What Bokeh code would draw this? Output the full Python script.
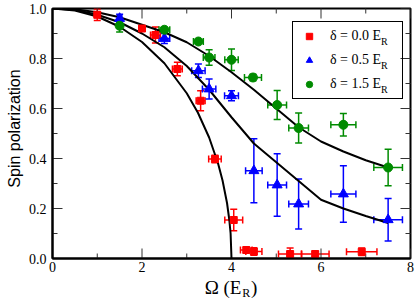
import math
from bokeh.plotting import figure
from bokeh.models import (ColumnDataSource, Whisker, TeeHead, Label,
                          Range1d, FixedTicker, PrintfTickFormatter)
from bokeh.embed import file_html
from bokeh.resources import INLINE

# ---------------- data ----------------
# delta = 0.0 E_R  (red squares)
red_x    = [1.0, 2.0, 2.3, 2.79, 3.31, 3.63, 4.05, 4.33, 4.5, 5.31, 5.87, 6.91]
red_y    = [0.975, 0.92, 0.894, 0.758, 0.631, 0.398, 0.154, 0.034, 0.028, 0.018, 0.018, 0.027]
red_xerr = [0.05, 0.05, 0.11, 0.11, 0.10, 0.14, 0.20, 0.13, 0.18, 0.26, 0.31, 0.34]
red_yerr = [0.023, 0.008, 0.032, 0.027, 0.04, 0.015, 0.043, 0.01, 0.015, 0.024, 0.01, 0.015]

# delta = 0.5 E_R  (blue triangles)
blue_x    = [1.5, 2.5, 3.26, 3.5, 4.0, 4.5, 5.02, 5.5, 6.5, 7.5]
blue_y    = [0.96, 0.88, 0.751, 0.678, 0.651, 0.351, 0.294, 0.218, 0.258, 0.155]
blue_xerr = [0.05, 0.12, 0.15, 0.15, 0.155, 0.185, 0.21, 0.22, 0.28, 0.32]
blue_yerr = [0.017, 0.02, 0.027, 0.04, 0.02, 0.128, 0.125, 0.10, 0.113, 0.085]

# delta = 1.5 E_R  (green circles)
green_x    = [1.5, 2.5, 3.26, 3.5, 4.0, 4.48, 5.02, 5.5, 6.5, 7.5]
green_y    = [0.931, 0.915, 0.868, 0.804, 0.795, 0.724, 0.614, 0.522, 0.535, 0.364]
green_xerr = [0.05, 0.12, 0.11, 0.13, 0.15, 0.19, 0.21, 0.22, 0.28, 0.32]
green_yerr = [0.025, 0.01, 0.005, 0.031, 0.043, 0.013, 0.058, 0.06, 0.045, 0.073]

# theory curves
curve0_x = [0, 0.5, 1.0, 1.5, 2.0, 2.5, 3.0, 3.25, 3.5, 3.7, 3.8, 3.9, 3.95, 3.98, 4.0]
curve0_y = [1.0, 0.992, 0.968, 0.927, 0.866, 0.781, 0.661, 0.583, 0.484, 0.38, 0.312, 0.222, 0.156, 0.1, 0.0]
curve1_x = [0, 0.5, 1.0, 1.5, 2.0, 2.5, 3.0, 3.5, 4.0, 4.5, 5.0, 5.5, 6.0, 6.5, 7.0, 7.5]
curve1_y = [1.0, 0.995, 0.975, 0.945, 0.90, 0.845, 0.77, 0.675, 0.565, 0.46, 0.385, 0.31, 0.235, 0.20, 0.17, 0.142]
curve2_x = [0, 0.5, 1.0, 1.5, 2.0, 2.5, 3.0, 3.5, 4.0, 4.5, 5.0, 5.5, 6.0, 6.5, 7.0, 7.5]
curve2_y = [1.0, 0.997, 0.985, 0.965, 0.935, 0.905, 0.865, 0.81, 0.745, 0.675, 0.60, 0.525, 0.468, 0.428, 0.393, 0.364]

x_ticks = [0, 2, 4, 6, 8]
x_minor = [1, 3, 5, 7]
y_ticks = [0.0, 0.2, 0.4, 0.6, 0.8, 1.0]
y_minor = [0.1, 0.3, 0.5, 0.7, 0.9]

legend_labels = ["δ = 0.0 E", "δ = 0.5 E", "δ = 1.5 E"]

RED, BLUE, GREEN = "#ff0000", "#0000ff", "#008b00"
SERIF = "Liberation Serif"
SANS = "Liberation Sans"
TICK = "#333333"

# ---------------- figure ----------------
p = figure(width=415, height=303, x_range=Range1d(0, 8), y_range=Range1d(0, 1),
           output_backend="svg", toolbar_location=None,
           min_border_left=50, min_border_right=5, min_border_top=8, min_border_bottom=45,
           background_fill_color="white", border_fill_color="white")
p.xgrid.grid_line_color = None
p.ygrid.grid_line_color = None
p.outline_line_color = "black"
p.outline_line_width = 2
p.outline_line_alpha = 1

for ax, ticks, minor, standoff in [(p.xaxis[0], x_ticks, x_minor, 3),
                                   (p.yaxis[0], y_ticks, y_minor, 6)]:
    ax.ticker = FixedTicker(ticks=ticks, minor_ticks=minor)
    ax.axis_line_color = "black"
    ax.axis_line_width = 2
    ax.major_tick_in = 0
    ax.major_tick_out = 0
    ax.minor_tick_in = 0
    ax.minor_tick_out = 0
    ax.major_label_text_font = SERIF
    ax.major_label_text_font_size = "14px"
    ax.major_label_text_color = "black"
    ax.major_label_standoff = standoff
p.yaxis[0].formatter = PrintfTickFormatter(format="%.1f")

# inward ticks on all four sides (markers centred on the frame edge, clipped by it)
x0, x1 = p.x_range.start, p.x_range.end
y0, y1 = p.y_range.start, p.y_range.end
for yy in (y0, y1):
    p.scatter(x_ticks, [yy] * len(x_ticks), marker="dash", angle=math.pi / 2, size=20,
              line_color=TICK, line_width=1)
    p.scatter(x_minor, [yy] * len(x_minor), marker="dash", angle=math.pi / 2, size=10,
              line_color=TICK, line_width=1)
for xx in (x0, x1):
    p.scatter([xx] * len(y_ticks), y_ticks, marker="dash", angle=0, size=20,
              line_color=TICK, line_width=1)
    p.scatter([xx] * len(y_minor), y_minor, marker="dash", angle=0, size=10,
              line_color=TICK, line_width=1)

# ---------------- curves ----------------
for cx, cy in [(curve0_x, curve0_y), (curve1_x, curve1_y), (curve2_x, curve2_y)]:
    p.line(cx, cy, line_color="black", line_width=2)

# ---------------- data with error bars ----------------
series = [
    (red_x, red_y, red_xerr, red_yerr, RED, "square", 7, legend_labels[0]),
    (blue_x, blue_y, blue_xerr, blue_yerr, BLUE, "triangle", 10, legend_labels[1]),
    (green_x, green_y, green_xerr, green_yerr, GREEN, "circle", 9, legend_labels[2]),
]
for xs, ys, xe, ye, col, mk, sz, lab in series:
    src = ColumnDataSource(dict(
        x=xs, y=ys,
        xlo=[a - b for a, b in zip(xs, xe)], xhi=[a + b for a, b in zip(xs, xe)],
        ylo=[a - b for a, b in zip(ys, ye)], yhi=[a + b for a, b in zip(ys, ye)],
    ))
    for dim, base, lo, hi in [("height", "x", "ylo", "yhi"), ("width", "y", "xlo", "xhi")]:
        p.add_layout(Whisker(source=src, base=base, lower=lo, upper=hi, dimension=dim,
                             line_color=col, line_width=1.5, level="underlay",
                             lower_head=TeeHead(size=7, line_color=col, line_width=1.5),
                             upper_head=TeeHead(size=7, line_color=col, line_width=1.5)))
    p.scatter("x", "y", source=src, marker=mk, size=sz, fill_color=col, line_color=col,
              legend_label=lab)

# ---------------- legend ----------------
lg = p.legend[0]
lg.location = (240, 159)
lg.padding = 6
lg.spacing = 8
lg.glyph_width = 20
lg.glyph_height = 16
lg.label_height = 16
lg.label_width = 66
lg.label_standoff = 11
lg.margin = 0
lg.label_text_font = SERIF
lg.label_text_font_size = "14px"
lg.label_text_color = "black"
lg.border_line_color = "black"
lg.border_line_width = 1
lg.border_line_alpha = 1
lg.background_fill_alpha = 0   # transparent so the subscripts below stay visible

# subscripts "R" after each legend label (screen units, relative to the frame)
for row_sy in [217, 193, 169]:
    p.add_layout(Label(x=328.5, y=row_sy, x_units="screen", y_units="screen",
                       text="R", text_font=SERIF, text_font_size="10px",
                       text_color="black", text_baseline="middle"))

# ---------------- axis titles ----------------
p.add_layout(Label(x=-0.844, y=0.52, text="Spin polarization", angle=math.pi / 2,
                   text_align="center", text_baseline="middle",
                   text_font=SANS, text_font_size="16px", text_color="black"), "left")
p.add_layout(Label(x=3.4, y=-0.117, text="Ω (E\u00a0\u00a0)", text_align="left",
                   text_baseline="middle", text_font=SERIF, text_font_size="19px",
                   text_color="black"), "below")
p.add_layout(Label(x=3.4, y=-0.117, x_offset=37.5, y_offset=-5, text="R",
                   text_align="left", text_baseline="middle",
                   text_font=SERIF, text_font_size="12px", text_color="black"), "left")

open("out.html", "w").write(file_html(p, INLINE))
